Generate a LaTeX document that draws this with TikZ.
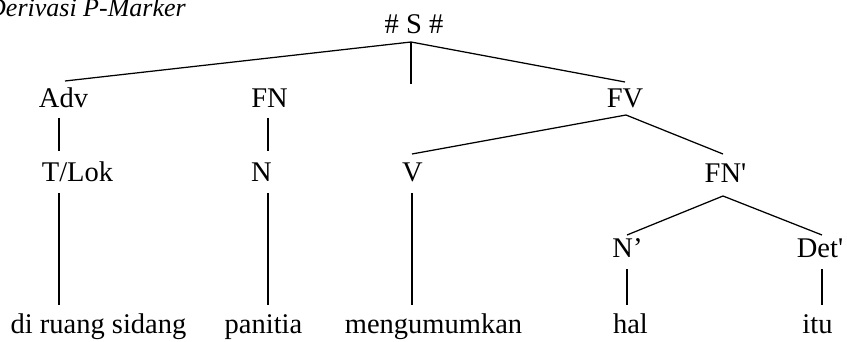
\documentclass[tikz,border=0pt]{standalone}
\usepackage{fontspec}
\setmainfont{Liberation Serif}
\begin{document}
\begin{tikzpicture}[x=1pt,y=-1pt,
  lab/.style={inner sep=0pt,anchor=base,font=\fontsize{28.5}{32}\selectfont},
  ttl/.style={inner sep=0pt,anchor=base west,font=\fontsize{26}{30}\selectfont\itshape},
  edge/.style={line width=1.25pt,line cap=butt}]
\useasboundingbox (0,0) rectangle (847,342);

% caption
\node[ttl] (title) at (-13,17) {Derivasi P-Marker};

% category labels
\node[lab] (S)    at (414,34)  {\# S \#};
\node[lab] (Adv)  at (63.5,108) {Adv};
\node[lab] (FN)   at (269.5,108) {FN};
\node[lab] (FV)   at (625,108) {FV};
\node[lab] (TLok) at (77.5,182) {T/Lok};
\node[lab] (N)    at (261.5,182) {N};
\node[lab] (V)    at (412.5,182) {V};
\node[lab] (FNp)  at (725.5,183) {FN\textquotesingle};
\node[lab] (Np)   at (627.5,258) {N’};
\node[lab] (Detp) at (820,258) {Det\textquotesingle};

% words
\node[lab] (w1) at (98.5,333)  {di ruang sidang};
\node[lab] (w2) at (263.5,333) {panitia};
\node[lab] (w3) at (433.5,333) {mengumumkan};
\node[lab] (w4) at (630.5,333) {hal};
\node[lab] (w5) at (817.5,333) {itu};

% branch end points
\coordinate (S-f)    at (411,42);
\coordinate (S-mid)  at (411,84);
\coordinate (Adv-h)  at (65,81);
\coordinate (Adv-f)  at (59,118);
\coordinate (FV-h)   at (625,82);
\coordinate (FV-f)   at (626,115);
\coordinate (FN-f)   at (268,118);
\coordinate (TLok-h) at (59,151);
\coordinate (TLok-f) at (59,193);
\coordinate (N-h)    at (268,151);
\coordinate (N-f)    at (268,193);
\coordinate (V-h)    at (412,154);
\coordinate (V-f)    at (412,193);
\coordinate (FNp-h)  at (723,154);
\coordinate (FNp-f)  at (723,196);
\coordinate (Np-h)   at (627,235);
\coordinate (Np-f)   at (627,269);
\coordinate (Detp-h) at (822,235);
\coordinate (Detp-f) at (822,269);
\coordinate (w1-h)   at (59,305);
\coordinate (w2-h)   at (268,305);
\coordinate (w3-h)   at (412,305);
\coordinate (w4-h)   at (627,305);
\coordinate (w5-h)   at (822,305);

% branches
\draw[edge] (S-f) -- (Adv-h);
\draw[edge] (S-f) -- (S-mid);
\draw[edge] (S-f) -- (FV-h);
\draw[edge] (Adv-f) -- (TLok-h);
\draw[edge] (FN-f) -- (N-h);
\draw[edge] (FV-f) -- (V-h);
\draw[edge] (FV-f) -- (FNp-h);
\draw[edge] (TLok-f) -- (w1-h);
\draw[edge] (N-f) -- (w2-h);
\draw[edge] (V-f) -- (w3-h);
\draw[edge] (FNp-f) -- (Np-h);
\draw[edge] (FNp-f) -- (Detp-h);
\draw[edge] (Np-f) -- (w4-h);
\draw[edge] (Detp-f) -- (w5-h);
\end{tikzpicture}
\end{document}
